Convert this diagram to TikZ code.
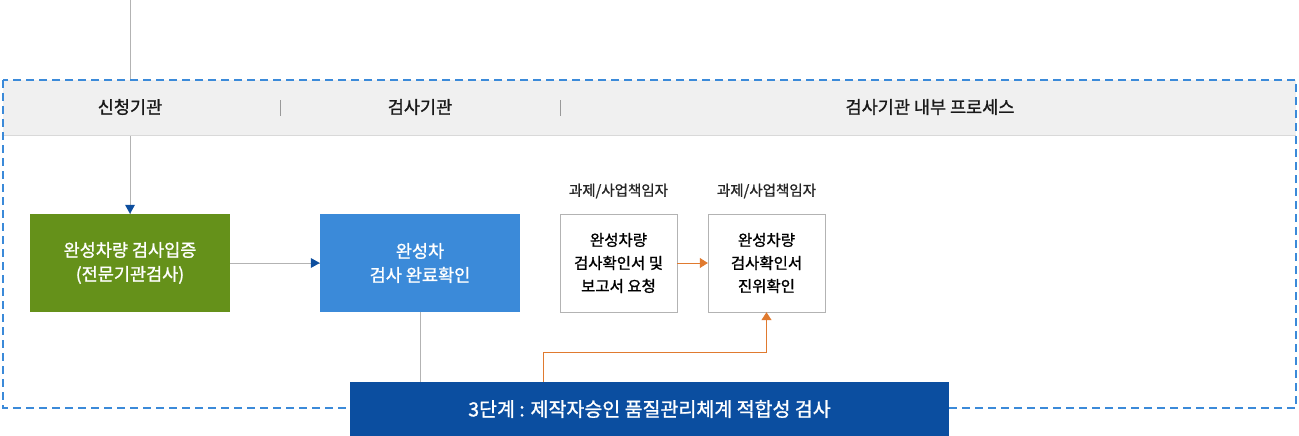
\documentclass[tikz,border=0pt]{standalone}
\usepackage{fontspec}
\setmainfont{Noto Sans CJK KR}
\newfontfamily\krmed{Noto Sans CJK KR}[FakeBold=1.2]
\usetikzlibrary{arrows.meta,positioning}

\definecolor{frameblue}{HTML}{3B8AD9}
\definecolor{passgreen}{HTML}{65911A}
\definecolor{stagenavy}{HTML}{0B4EA0}
\definecolor{tipblue}{HTML}{0D4E9E}
\definecolor{reqorange}{HTML}{E07A2F}
\definecolor{headgray}{HTML}{F0F0F0}
\definecolor{wiregray}{HTML}{B3B3B3}

\begin{document}
\begin{tikzpicture}[
    x=1pt, y=-1pt, line cap=butt,
    fillbox/.style ={text=white, minimum width=200pt, minimum height=98pt, inner sep=0pt, align=center, font=\krmed\fontsize{17.5}{24}\selectfont},
    docbox/.style  ={draw=wiregray, fill=white, minimum width=117pt, minimum height=98pt, inner sep=0pt, align=center, font=\krmed\fontsize{15.5}{23}\selectfont},
    owner/.style   ={font=\krmed\fontsize{14.5}{16}\selectfont, text=black!85},
    headtxt/.style ={font=\krmed\fontsize{17.5}{18}\selectfont, text=black!90},
    wire/.style    ={draw=wiregray, line width=1pt},
    orangewire/.style={draw=reqorange, line width=1pt, -{Triangle[length=8pt,width=10pt]}}
]
\useasboundingbox (0,0) rectangle (1299,436);

% boxes of the applicant / inspection agency
\node[fillbox, fill=passgreen] (apply) at (130,263) {완성차량 검사입증\\(전문기관검사)};
\node[fillbox, fill=frameblue] (done) at (420,263) {완성차\\검사 완료확인};

% entry line from above
\coordinate (entry) at (130,0);
\draw[wire] (entry) -- (apply.north);
\fill[tipblue] (apply.north) -- ++(-5,-9) -- ++(10,0) -- cycle;

% header band
\fill[headgray] (3,80) rectangle (1296,135);
\draw[gray!30] (3,135.5) -- (1296,135.5);
\node[headtxt] (hApply) at (130,107) {신청기관};
\node[headtxt] (hAgency) at (420,107) {검사기관};
\node[headtxt] (hInner) at (930,107) {검사기관 내부 프로세스};
\draw[gray!80] (280,100) -- (280,116);
\draw[gray!80] (560,100) -- (560,116);

% dashed frame
\draw[frameblue, line width=2.5pt, dash pattern=on 8pt off 5pt] (3,80) rectangle (1296,408);

% internal process
\node[docbox] (request) at (618.5,263) {완성차량\\검사확인서 및\\보고서 요청};
\node[docbox] (verify) at (766.5,263) {완성차량\\검사확인서\\진위확인};
\node[owner, above=12pt of request] (reqOwner) {과제/사업책임자};
\node[owner, above=12pt of verify] (verOwner) {과제/사업책임자};

% stage bar
\node[fill=stagenavy, text=white, minimum width=599pt, minimum height=54pt, inner sep=0pt,
      font=\krmed\fontsize{19.5}{20}\selectfont] (stage) at (649.5,409) {3단계 : 제작자승인 품질관리체계 적합성 검사};

% connectors
\draw[wire] (apply.east) -- (done.west);
\fill[tipblue] (done.west) -- ++(-9,-5) -- ++(0,10) -- cycle;
\draw[wire] (done.south) -- (done.south |- stage.north);
\draw[orangewire] (request.east) -- (verify.west);
\coordinate (tap) at (543,382);
\draw[orangewire] (tap) -- ++(0,-30) -| (verify.south);
\end{tikzpicture}
\end{document}
